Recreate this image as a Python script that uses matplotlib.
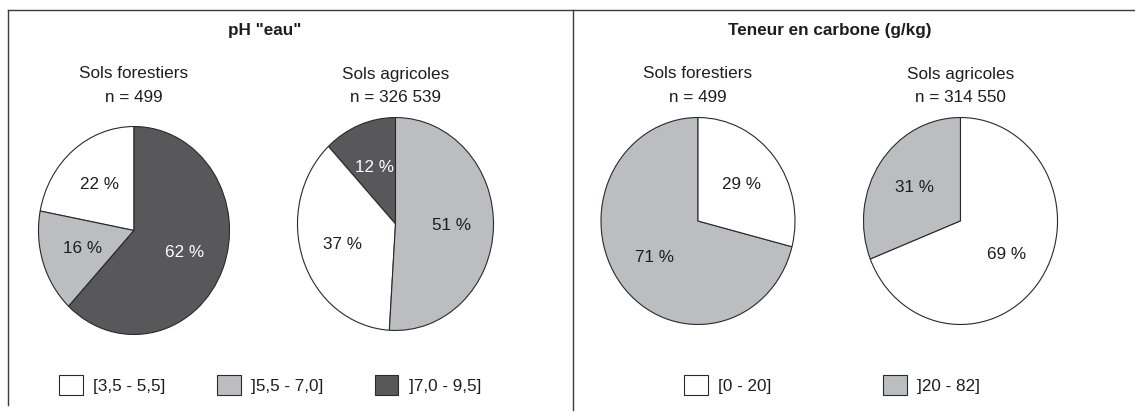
import matplotlib.pyplot as plt
from matplotlib.lines import Line2D
from matplotlib.patches import Patch

plt.rcParams['font.family'] = ['Liberation Sans', 'DejaVu Sans']

# ---- data ----
ph_classes = ["[3,5 - 5,5]", "]5,5 - 7,0]", "]7,0 - 9,5]"]
ph_forest = [22, 16, 62]
ph_agri = [37, 51, 12]
c_classes = ["[0 - 20]", "]20 - 82]"]
c_forest = [29, 71]
c_agri = [69, 31]

n_ph_forest = "499"
n_ph_agri = "326 539"
n_c_forest = "499"
n_c_agri = "314 550"

WHITE, GRAY, DARK = "#ffffff", "#bcbdc0", "#58585a"
ph_colors = [WHITE, GRAY, DARK]
c_colors = [WHITE, GRAY]
TXT = "#1e1e1e"

W, H = 1135, 412
fig = plt.figure(figsize=(W / 100, H / 100), dpi=100)
fig.patch.set_facecolor("white")


def px_axes(cx, cy, rx, ry):
    # axes box from pixel centre / radii (origin top-left)
    return fig.add_axes([(cx - rx) / W, (H - cy - ry) / H, 2 * rx / W, 2 * ry / H])


def draw_pie(ax, values, colors, order):
    vals = [values[i] for i in order]
    cols = [colors[i] for i in order]
    wedges, texts = ax.pie(vals, colors=cols, startangle=90, counterclock=True,
                           labels=[f"{v} %" for v in vals], labeldistance=0.57,
                           wedgeprops=dict(edgecolor="#2a2a2a", linewidth=0.8),
                           textprops=dict(fontsize=12.3, ha="center", va="center"))
    for t, c in zip(texts, cols):
        t.set_color("white" if c == DARK else TXT)
    ax.set_aspect("auto")
    ax.set_xlim(-1.005, 1.005)
    ax.set_ylim(-1.005, 1.005)
    ax.axis("off")
    return wedges


def subtitle(cx, title, n):
    fig.text(cx / W, 1 - 74 / H, title, ha="center", va="center", fontsize=12.3, color=TXT)
    fig.text(cx / W, 1 - 98 / H, f"n = {n}", ha="center", va="center", fontsize=12.3, color=TXT)


# pH panel
ax1 = px_axes(134, 230.5, 96, 104.5)
draw_pie(ax1, ph_forest, ph_colors, [0, 1, 2])
ax2 = px_axes(395.5, 224, 98.5, 107)
draw_pie(ax2, ph_agri, ph_colors, [2, 0, 1])
subtitle(134, "Sols forestiers", n_ph_forest)
subtitle(395.5, "Sols agricoles", n_ph_agri)

# carbon panel
ax3 = px_axes(698, 221, 97.5, 104)
draw_pie(ax3, c_forest, c_colors, [1, 0])
ax4 = px_axes(960.5, 221, 97.5, 104)
draw_pie(ax4, c_agri, c_colors, [1, 0])
subtitle(698, "Sols forestiers", n_c_forest)
subtitle(960.5, "Sols agricoles", n_c_agri)

fig.text(265 / W, 1 - 30 / H, 'pH "eau"', ha="center", va="center",
         fontsize=12.3, fontweight="bold", color=TXT)
fig.text(830 / W, 1 - 30 / H, "Teneur en carbone (g/kg)", ha="center", va="center",
         fontsize=12.3, fontweight="bold", color=TXT)

# legends
ph_handles = [Patch(facecolor=c, edgecolor="#2a2a2a", linewidth=0.8) for c in ph_colors]
c_handles = [Patch(facecolor=c, edgecolor="#2a2a2a", linewidth=0.8) for c in c_colors]
leg_kw = dict(loc="center", frameon=False, fontsize=12.3, handlelength=1.4,
              handleheight=1.35, handletextpad=0.6, borderpad=0, labelcolor=TXT)
fig.legend(ph_handles, ph_classes, ncol=3, columnspacing=3.0,
           bbox_to_anchor=(270 / W, 1 - 385 / H), **leg_kw)
fig.legend(c_handles, c_classes, ncol=2, columnspacing=6.5,
           bbox_to_anchor=(832 / W, 1 - 385 / H), **leg_kw)

# panel frame lines
lc = "#3a3a3a"
fig.add_artist(Line2D([8 / W, 1], [1 - 10 / H, 1 - 10 / H], color=lc, lw=1, transform=fig.transFigure))
fig.add_artist(Line2D([8 / W, 8 / W], [1 - 10 / H, 1 - 405 / H], color=lc, lw=1, transform=fig.transFigure))
fig.add_artist(Line2D([573 / W, 573 / W], [1 - 10 / H, 1 - 410 / H], color=lc, lw=1, transform=fig.transFigure))

fig.savefig("out.png", dpi=100)
